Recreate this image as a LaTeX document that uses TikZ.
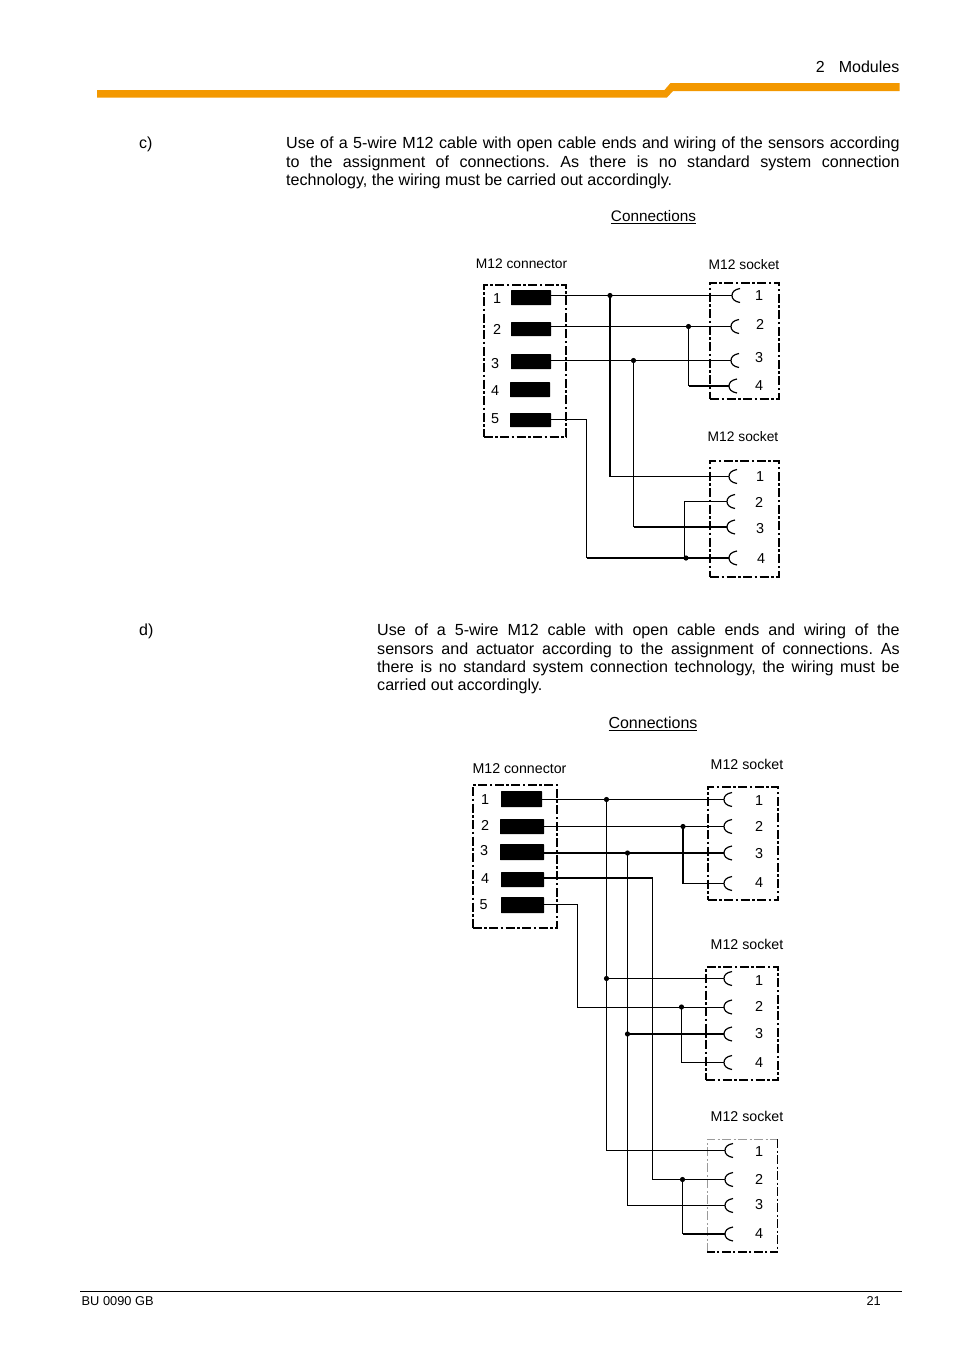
\documentclass[tikz,border=0pt]{standalone}
\usepackage{fontspec}
\setmainfont{Liberation Sans}
\definecolor{barorange}{HTML}{F39800}
\definecolor{dotgrey}{HTML}{9A9A9A}
\tikzset{
  x=1pt,y=-1pt,
  wire/.style={line width=1pt,black},
  thickwire/.style={line width=2.2pt,black},
  housing/.style={draw=black,line width=2pt,dash pattern=on 9pt off 2.5pt on 2.5pt off 2.5pt,inner sep=0pt,rectangle},
  pad/.style={fill=black,inner sep=0pt,rectangle,rounded corners=0.5pt},
  labc/.style={inner sep=0pt,font=\fontsize{13.8}{16}\selectfont},
  lab/.style={inner sep=0pt,font=\fontsize{14.2}{16}\selectfont},
  num/.style={inner sep=0pt,font=\fontsize{14.4}{16}\selectfont},
  body/.style={inner sep=0pt,anchor=north west,align=justify,font=\frenchspacing\fontsize{16.1}{18.3}\selectfont},
  plain/.style={inner sep=0pt,font=\fontsize{16}{18}\selectfont},
  plainc/.style={inner sep=0pt,font=\fontsize{15.3}{18}\selectfont},
  foot/.style={inner sep=0pt,font=\fontsize{12.8}{14}\selectfont},
  dotnode/.style={circle,fill=black,inner sep=0pt,minimum size=5.2pt},
  cup/.style={line width=1.2pt,black}
}
% socket: name, x, y, number, label x, label y
\newcommand{\socketcup}[6]{%
  \coordinate (#1) at (#2,#3);
  \draw[cup] (#2+8,#3-7) .. controls (#2+2,#3-6) and (#2,#3-3) .. (#2,#3) .. controls (#2,#3+3) and (#2+2,#3+6) .. (#2+8,#3+7);
  \node[num] (#1n) at (#5,#6) {#4};
}
% pad: name, x1, y1, x2, y2
\newcommand{\padbox}[5]{%
  \node[pad,minimum width=#4-#2,minimum height=#5-#3] (#1) at ({(#2+#4)/2},{(#3+#5)/2}) {};
}
% housing: name, x1, y1, x2, y2
\newcommand{\housebox}[5]{%
  \node[housing,minimum width=#4-#2,minimum height=#5-#3] (#1) at ({(#2+#4)/2},{(#3+#5)/2}) {};
}
\begin{document}
\begin{tikzpicture}
\useasboundingbox (0,0) rectangle (954,1350);
% header
\fill[barorange] (97,90) -- (664.5,90) -- (670.5,83) -- (899.5,83) -- (899.5,91) -- (673,91) -- (667,97.5) -- (97,97.5) -- cycle;
\node[plain,anchor=east] (hdr) at (899.5,67) {2\hspace{14pt}Modules};
% footer
\coordinate (fl) at (80,1291.5);
\coordinate (fr) at (901.5,1291.5);
\draw[line width=0.9pt] (fl) -- (fr);
\node[foot,anchor=west] (fa) at (81.5,1301) {BU 0090 GB};
\node[foot,anchor=east] (fb) at (881,1301) {21};
% section c
\node[plain,anchor=west] (cc) at (139,144) {c)};
\node[body,text width=613.5pt] (ct) at (286,137) {Use of a 5-wire M12 cable with open cable ends and wiring of the sensors according\linebreak to the assignment of connections. As there is no standard system connection\linebreak technology, the wiring must be carried out accordingly.};
\node[plainc] (ch) at (653.5,217) {\underline{Connections}};
\node[labc] (cl1) at (521.5,264) {M12 connector};
\node[labc] (cl2) at (744,265) {M12 socket};
\node[labc] (cl3) at (743,437) {M12 socket};
% c: connector
\housebox{cbox}{483.5}{284.5}{566}{437}
\padbox{cp1}{511}{290}{551}{305}
\padbox{cp2}{511}{322}{551}{336}
\padbox{cp3}{511}{354}{551}{369}
\padbox{cp4}{510}{382}{550}{397}
\padbox{cp5}{510}{413}{551}{427}
\node[num] (cn1) at (497,299) {1};
\node[num] (cn2) at (497,329.5) {2};
\node[num] (cn3) at (495,363.5) {3};
\node[num] (cn4) at (495,391) {4};
\node[num] (cn5) at (495,419) {5};
% c: sockets
\housebox{cboxa}{710}{282.5}{779}{398.5}
\socketcup{ca1}{732}{295.5}{1}{759}{295.5}
\socketcup{ca2}{731}{326.5}{2}{760}{324.5}
\socketcup{ca3}{731}{360.5}{3}{759}{357.5}
\socketcup{ca4}{729}{386}{4}{759}{385.5}
\housebox{cboxb}{710}{461}{779}{576.5}
\socketcup{cb1}{729}{476.5}{1}{760}{476.5}
\socketcup{cb2}{727}{501.5}{2}{759}{502.5}
\socketcup{cb3}{727}{527}{3}{760}{528.5}
\socketcup{cb4}{729}{558}{4}{761}{558.5}
% c: wires
\coordinate (cj1) at (610,295.5);
\coordinate (cj2) at (688.5,326.5);
\coordinate (cj3) at (633.5,360.5);
\coordinate (cj4) at (686,558);
\coordinate (ct5) at (586.5,419.5);
\coordinate (cv2) at (684.5,501.5);
\draw[wire] (cp1.east |- cj1) -- (ca1);
\draw[wire] (cp2.east |- cj2) -- (cj2) -- (ca2);
\draw[wire] (cp3.east |- cj3) -- (cj3) -- (ca3);
\draw[thickwire] (cj1) -- (cj1 |- cb1);
\draw[wire] (cj1 |- cb1) -- (cb1);
\draw[wire] (cj2) -- (cj2 |- ca4);
\draw[thickwire] (cj2 |- ca4) -- (ca4);
\draw[wire] (cj3) -- (cj3 |- cb3);
\draw[thickwire] (cj3 |- cb3) -- (cb3);
\draw[wire] (cp5.east |- ct5) -- (ct5) -- (ct5 |- cb4);
\draw[thickwire] (ct5 |- cb4) -- (cb4);
\draw[wire] (cv2 |- cj4) -- (cv2) -- (cb2);
\node[dotnode] at (cj1) {};
\node[dotnode] at (cj2) {};
\node[dotnode] at (cj3) {};
\node[dotnode] at (cj4) {};
% section d
\node[plain,anchor=west] (dd) at (139,631) {d)};
\node[body,text width=522.5pt] (dt) at (377,624) {Use of a 5-wire M12 cable with open cable ends and wiring of the\linebreak sensors and actuator according to the assignment of connections. As\linebreak there is no standard system connection technology, the wiring must be\linebreak carried out accordingly.};
\node[plain] (dh) at (653,724) {\underline{Connections}};
\node[lab] (dl1) at (519.5,768.5) {M12 connector};
\node[lab] (dl2) at (747,764.5) {M12 socket};
\node[lab] (dl3) at (747,944.5) {M12 socket};
\node[lab] (dl4) at (747,1116.5) {M12 socket};
% d: connector
\housebox{dbox}{472.5}{785}{557}{927.5}
\padbox{dp1}{501}{791}{542}{807}
\padbox{dp2}{500}{819}{544}{834}
\padbox{dp3}{500}{844}{544}{860}
\padbox{dp4}{501}{872}{544}{887}
\padbox{dp5}{501}{897}{544}{913}
\node[num] (dn1) at (485,800) {1};
\node[num] (dn2) at (485,825) {2};
\node[num] (dn3) at (484,850.5) {3};
\node[num] (dn4) at (485,878.5) {4};
\node[num] (dn5) at (483.5,904.5) {5};
% d: sockets
\housebox{dboxa}{707.5}{787}{778}{900}
\socketcup{da1}{724}{799.5}{1}{759}{800.5}
\socketcup{da2}{724}{826.5}{2}{759}{826.5}
\socketcup{da3}{724}{853}{3}{759}{853.5}
\socketcup{da4}{724}{883.5}{4}{759}{883}
\housebox{dboxb}{706}{967}{778}{1080}
\socketcup{db1}{724}{978.5}{1}{759}{980.5}
\socketcup{db2}{724}{1007}{2}{759}{1006.5}
\socketcup{db3}{724}{1034}{3}{759}{1033.5}
\socketcup{db4}{724}{1062.5}{4}{759}{1062.5}
\draw[line width=0.7pt,dotgrey,dash pattern=on 9pt off 2.5pt on 2pt off 2.5pt] (707,1252) -- (707,1139) -- (777.5,1139);
\draw[line width=1.6pt,dash pattern=on 9pt off 2.5pt on 2pt off 2.5pt] (777.5,1139) -- (777.5,1252) -- (707,1252);
\socketcup{dc1}{725}{1150.5}{1}{759}{1151.5}
\socketcup{dc2}{725}{1179.5}{2}{759}{1179.5}
\socketcup{dc3}{725}{1205.5}{3}{759}{1204.5}
\socketcup{dc4}{725}{1234}{4}{759}{1233.5}
% d: wires
\coordinate (dj1) at (606.5,799.5);
\coordinate (dj2) at (683,826.5);
\coordinate (dj3) at (627.5,853);
\coordinate (dj4) at (606.5,978.5);
\coordinate (dj5) at (681.5,1007);
\coordinate (dj6) at (627.5,1034);
\coordinate (dj7) at (682.5,1179.5);
\coordinate (dt4) at (652.5,878);
\coordinate (dt5) at (577.5,904.5);
\draw[wire] (dp1.east |- dj1) -- (dj1) -- (da1);
\draw[wire] (dp2.east |- dj2) -- (dj2) -- (da2);
\draw[thickwire] (dp3.east |- dj3) -- (dj3) -- (da3);
\draw[thickwire] (dj2) -- (dj2 |- da4);
\draw[wire] (dj2 |- da4) -- (da4);
\draw[thickwire] (dp4.east |- dt4) -- (dt4);
\draw[wire] (dt4) -- (dt4 |- dc2) -- (dj7) -- (dc2);
\draw[wire] (dp5.east |- dt5) -- (dt5) -- (dt5 |- dj5) -- (dj5) -- (db2);
\draw[wire] (dj1) -- (dj1 |- dc1) -- (dc1);
\draw[wire] (dj4) -- (db1);
\draw[wire] (dj3) -- (dj3 |- dc3) -- (dc3);
\draw[thickwire] (dj6) -- (db3);
\draw[wire] (dj5) -- (dj5 |- db4) -- (db4);
\draw[wire] (dj7) -- (dj7 |- dc4);
\draw[thickwire] (dj7 |- dc4) -- (dc4);
\node[dotnode] at (dj1) {};
\node[dotnode] at (dj2) {};
\node[dotnode] at (dj3) {};
\node[dotnode] at (dj4) {};
\node[dotnode] at (dj5) {};
\node[dotnode] at (dj6) {};
\node[dotnode] at (dj7) {};
\end{tikzpicture}
\end{document}
